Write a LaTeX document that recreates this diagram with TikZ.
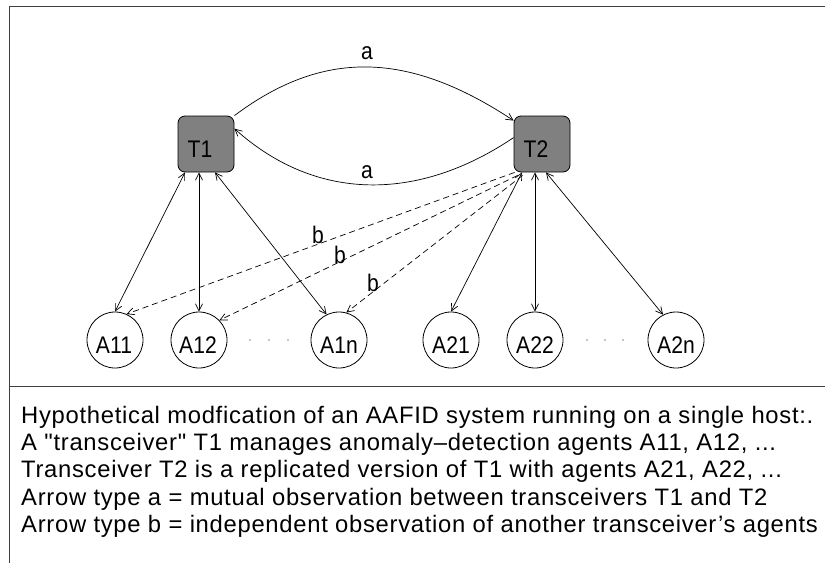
\documentclass[tikz,border=0pt]{standalone}
\usepackage{fontspec}
\setmainfont{Liberation Sans}
\newfontfamily\capfont{Liberation Sans}[LetterSpace=3]
\newfontfamily\lblfont{Liberation Sans}[FakeStretch=0.88]
\usetikzlibrary{arrows.meta}
\begin{document}
\begin{tikzpicture}[x=1pt,y=-1pt,
  >={Straight Barb[length=7pt,width=7pt]},
  trans/.style={draw, fill=gray, rounded corners=7pt, minimum size=56pt, inner sep=0pt, line width=0.8pt},
  agent/.style={draw, circle, minimum size=56pt, inner sep=0pt, line width=0.8pt},
  lbl/.style={font=\lblfont\fontsize{24}{28}\selectfont, inner sep=0pt},
  link/.style={<->, line width=0.7pt},
  obs/.style={->, dash pattern=on 6pt off 4pt, line width=0.7pt},
  mutual/.style={->, line width=0.7pt},
  captext/.style={anchor=base west, font=\capfont\fontsize{23.8}{28}\selectfont, inner sep=0pt},
  frame/.style={line width=1pt, black!75}]
\useasboundingbox (0,0) rectangle (825,563);

% frame and separator
\draw[frame] (825,6) -- (9,6) -- (9,563);
\draw[frame] (9,386) -- (825,386);

% transceivers
\node[trans, label={[lbl, shift={(-6,5)}]center:T1}] (T1) at (206,144) {};
\node[trans, label={[lbl, shift={(-6,5)}]center:T2}] (T2) at (542,144) {};

% agents
\node[agent, label={[lbl, shift={(-1,5)}]center:A11}] (A11) at (115,340) {};
\node[agent, label={[lbl, shift={(-1,5)}]center:A12}] (A12) at (199,340) {};
\node[agent, label={[lbl, shift={(0,5)}]center:A1n}] (A1n) at (339,340) {};
\node[agent, label={[lbl, shift={(0,5)}]center:A21}] (A21) at (451,340) {};
\node[agent, label={[lbl, shift={(0,5)}]center:A22}] (A22) at (535,340) {};
\node[agent, label={[lbl, shift={(0,5)}]center:A2n}] (A2n) at (676,340) {};

% ellipses between agents
\foreach \x in {250,269,288,587,605,623}
  \fill[black!45] (\x,340) circle (0.9);

% mutual observation (type a)
\draw[mutual] (T1.north east) .. controls (322,50) and (407,50) .. ([yshift=-5pt]T2.north west);
\draw[mutual] ([yshift=-22pt]T2.north west) .. controls (418,202) and (316,202) .. ([yshift=-13pt]T1.north east);
\node[lbl] (la1) at (367,53) {a};
\node[lbl] (la2) at (367,172) {a};

% transceivers and their own agents
\draw[link] ([xshift=-21pt]T1.south) -- (A11.north);
\draw[link] ([xshift=-7pt]T1.south) -- (A12.north);
\draw[link] ([xshift=9pt]T1.south) -- (A1n.116);
\draw[link] ([xshift=-20pt]T2.south) -- (A21.north);
\draw[link] ([xshift=-7pt]T2.south) -- (A22.north);
\draw[link] ([xshift=4pt]T2.south) -- (A2n.117);

% independent observation (type b)
\draw[obs] ([xshift=1pt]T2.south west) -- (A11.66);
\draw[obs] ([xshift=4pt,yshift=-3pt]T2.south west) -- (A12.44);
\draw[obs] ([xshift=9pt,yshift=-3pt]T2.south west) -- (A1n.75);
\node[lbl] (lb1) at (318,235) {b};
\node[lbl] (lb2) at (340,255) {b};
\node[lbl] (lb3) at (373,283) {b};

% caption
\node[captext] (c1) at (21,423) {Hypothetical modfication of an AAFID system running on a single host:.};
\node[captext] (c2) at (21,450.3) {A "transceiver" T1 manages anomaly–detection agents A11, A12, ...};
\node[captext] (c3) at (21,477.6) {Transceiver T2 is a replicated version of T1 with agents A21, A22, ...};
\node[captext] (c4) at (21,505) {Arrow type a = mutual observation between transceivers T1 and T2};
\node[captext] (c5) at (21,532.3) {Arrow type b = independent observation of another transceiver’s agents};
\end{tikzpicture}
\end{document}
